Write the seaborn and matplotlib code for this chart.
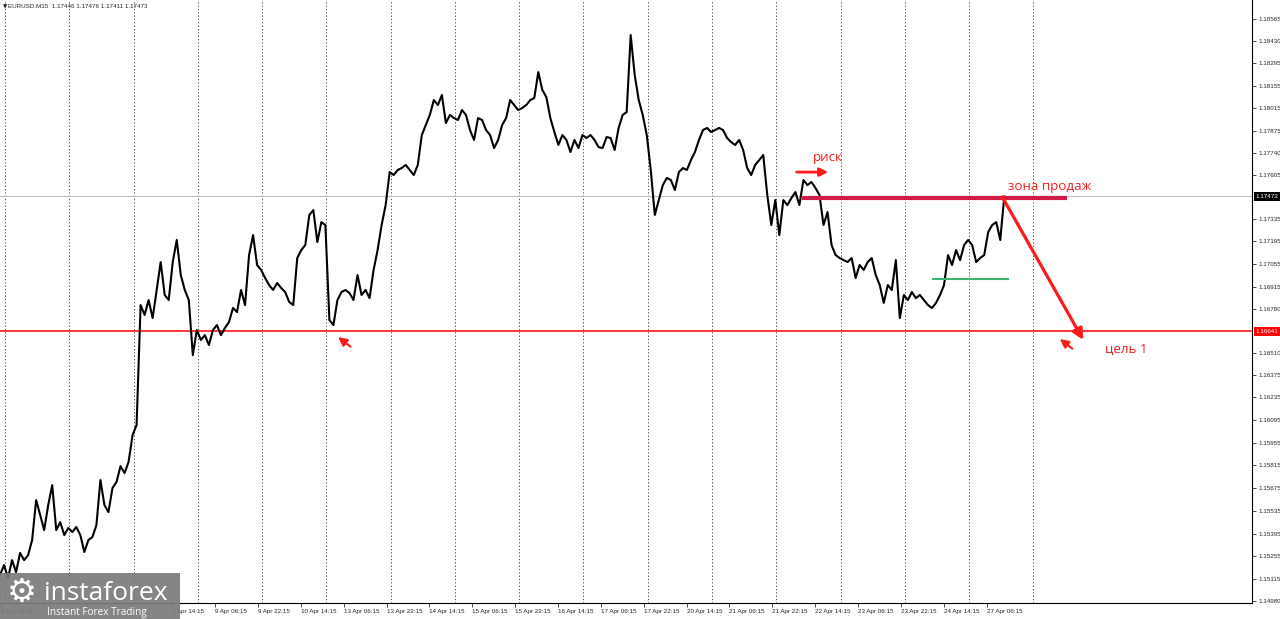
import numpy as np
import pandas as pd
import seaborn as sns
import matplotlib.pyplot as plt
import matplotlib.transforms as mtransforms
from matplotlib.patches import Rectangle

# EURUSD M15 closes, every 6 bars
close = [
    1.15140, 1.15202, 1.15122, 1.15232, 1.15158, 1.15276, 1.15232, 1.15263, 1.15356, 1.15602,
    1.15510, 1.15417, 1.15571, 1.15694, 1.15417, 1.15466, 1.15386, 1.15430, 1.15405, 1.15436,
    1.15386, 1.15282, 1.15356, 1.15374, 1.15448, 1.15725, 1.15571, 1.15528, 1.15676, 1.15713,
    1.15811, 1.15768, 1.15836, 1.16002, 1.16064,
    1.16803, 1.16742, 1.16834, 1.16723, 1.16896, 1.17068, 1.16865, 1.16834, 1.17068, 1.17204,
    1.16988, 1.16896, 1.16834, 1.16495, 1.16649,
    1.16588, 1.16618, 1.16557, 1.16649, 1.16680, 1.16618, 1.16662, 1.16698, 1.16785, 1.16760,
    1.16896, 1.16803, 1.17111, 1.17234, 1.17050, 1.17019, 1.16970, 1.16926, 1.16896, 1.16939,
    1.16908, 1.16883, 1.16822, 1.16803, 1.17093, 1.17142, 1.17173, 1.17358, 1.17388, 1.17191,
    1.17314, 1.17296,
    1.16711, 1.16680, 1.16834, 1.16883, 1.16896, 1.16877, 1.16834, 1.16988, 1.16865, 1.16896,
    1.16846, 1.17019, 1.17142, 1.17296, 1.17419, 1.17622, 1.17604, 1.17635, 1.17647, 1.17666,
    1.17635, 1.17604, 1.17666,
    1.17850, 1.17912, 1.17974, 1.18066, 1.18035, 1.18097, 1.17924, 1.17974, 1.17955, 1.17943,
    1.18004, 1.17974, 1.17881, 1.17820, 1.17955, 1.17943, 1.17881, 1.17850, 1.17770, 1.17820,
    1.17912, 1.17955, 1.18066, 1.18035, 1.18004, 1.18017, 1.18035, 1.18066, 1.18078, 1.18238,
    1.18128, 1.18084, 1.17955, 1.17869, 1.17789, 1.17850, 1.17820, 1.17746, 1.17820, 1.17770,
    1.17850, 1.17832, 1.17850, 1.17820, 1.17776, 1.17770, 1.17838, 1.17832, 1.17758, 1.17894,
    1.17974, 1.17992, 1.18466, 1.18220, 1.18066, 1.17974, 1.17850, 1.17635, 1.17358, 1.17450,
    1.17542, 1.17586, 1.17573, 1.17512, 1.17622, 1.17647, 1.17635, 1.17696, 1.17746, 1.17820,
    1.17881, 1.17894, 1.17869, 1.17881, 1.17894, 1.17881, 1.17832, 1.17807, 1.17789, 1.17820,
    1.17758, 1.17647, 1.17604, 1.17666, 1.17696, 1.17727, 1.17481, 1.17296, 1.17450, 1.17234,
    1.17450, 1.17419, 1.17462, 1.17499, 1.17419, 1.17573, 1.17542, 1.17561, 1.17524, 1.17481,
    1.17296, 1.17376, 1.17173, 1.17111, 1.17093, 1.17080, 1.17068, 1.17093, 1.16970, 1.17050,
    1.17019, 1.17068, 1.17093, 1.16988, 1.16926, 1.16816, 1.16926, 1.16896, 1.17080, 1.16723,
    1.16865, 1.16834, 1.16883, 1.16846, 1.16865, 1.16834, 1.16803, 1.16785, 1.16816, 1.16865,
    1.16926, 1.17111, 1.17050, 1.17142, 1.17080, 1.17173, 1.17204, 1.17173, 1.17068, 1.17093,
    1.17111, 1.17253, 1.17296, 1.17314, 1.17204, 1.17473,
]
bar_step = 6

price_ticks = [1.18565, 1.18430, 1.18295, 1.18155, 1.18015, 1.17875, 1.17740, 1.17605,
               1.17335, 1.17195, 1.17055, 1.16915, 1.16780, 1.16510, 1.16375, 1.16235,
               1.16095, 1.15955, 1.15815, 1.15675, 1.15535, 1.15395, 1.15255, 1.15115,
               1.14980]

# labels under the watermark are hidden in the terminal screenshot
time_labels = ["3 Apr 22:15", "", "", "", "8 Apr 14:15",
               "9 Apr 06:15", "9 Apr 22:15", "10 Apr 14:15", "13 Apr 06:15", "13 Apr 22:15",
               "14 Apr 14:15", "15 Apr 06:15", "15 Apr 22:15", "16 Apr 14:15", "17 Apr 06:15",
               "17 Apr 22:15", "20 Apr 14:15", "21 Apr 06:15", "21 Apr 22:15", "22 Apr 14:15",
               "23 Apr 06:15", "23 Apr 22:15", "24 Apr 14:15", "27 Apr 06:15"]

current_price = 1.17473
target_level = 1.16641
sell_zone = 1.17460
sell_zone_bars = (1198, 1594)
risk_level = 1.17622
risk_bars = (1190, 1237)
green_level = 1.16963
green_bars = (1392, 1507)
arrow_from = (1497, 1.17469)
arrow_to = (1618, 1.16588)

sns.set_style("white")
plt.rcParams['font.family'] = ['Liberation Sans', 'DejaVu Sans']

df = pd.DataFrame({"bar": np.arange(len(close)) * bar_step, "close": close})

fig = plt.figure(figsize=(12.8, 6.19), dpi=100)
ax = fig.add_axes([0, 16 / 619, 1252 / 1280, 603 / 619])

# vertical dotted grid (one per day)
for k in range(17):
    ax.axvline(7.5 + 96 * k, color="#333333", lw=0.6, dashes=(1.5, 2.5), zorder=0)

ax.axhline(current_price, color="#c0c0c0", lw=0.8, zorder=1)
ax.axhline(target_level, color="red", lw=1.1, zorder=1)

sns.lineplot(data=df, x="bar", y="close", color="black", lw=1.5, ax=ax, zorder=3)

ax.set_xlim(0, 1870)
ax.set_ylim(1.14968, 1.18682)

# annotations
ax.hlines(sell_zone, *sell_zone_bars, color="#d21c48", lw=3, zorder=4)
ax.hlines(green_level, *green_bars, color="#3cb371", lw=1.5, zorder=4)
ax.annotate("", xy=arrow_to, xytext=arrow_from,
            arrowprops=dict(arrowstyle="-|>", color="#ff1a1a", lw=2.3, mutation_scale=16,
                            shrinkA=0, shrinkB=0), zorder=5)
ax.annotate("", xy=(risk_bars[1], risk_level), xytext=(risk_bars[0], risk_level),
            arrowprops=dict(arrowstyle="-|>", color="#ff1a1a", lw=2, mutation_scale=12,
                            shrinkA=0, shrinkB=0), zorder=5)
for tip in [(1583, 1.16594), (505, 1.16606)]:
    ax.annotate("", xy=tip, xytext=(9, -7), textcoords="offset points",
                arrowprops=dict(arrowstyle="-|>", color="#ff1a1a", lw=1.5, mutation_scale=13,
                                shrinkA=0, shrinkB=0), zorder=5)

txt_kw = dict(color="#f01e1e", fontsize=9.6, family=["Open Sans", "DejaVu Sans"], va="baseline", zorder=6)
ax.text(1214, 1.17690, "риск", **txt_kw)
ax.text(1506, 1.17512, "зона продаж", **txt_kw)
ax.text(1650, 1.16506, "цель 1", **txt_kw)

# axes styling like the terminal
for side in ["left", "top"]:
    ax.spines[side].set_visible(False)
for side in ["right", "bottom"]:
    ax.spines[side].set_color("black")
    ax.spines[side].set_linewidth(0.8)

ax.yaxis.tick_right()
ax.set_yticks(price_ticks)
ax.set_yticklabels([f"{v:.5f}" for v in price_ticks])
ax.tick_params(axis="y", length=3, width=0.6, labelsize=4.5, pad=2, direction="out", right=True)

ax.set_xticks([1.5 + 64 * k for k in range(len(time_labels))])
ax.set_xticklabels(time_labels)
for lbl in ax.get_xticklabels():
    lbl.set_ha("left")
ax.tick_params(axis="x", length=3, width=0.6, labelsize=4.5, pad=1.5, direction="out", bottom=True)
ax.set_xlabel("")
ax.set_ylabel("")

blend = mtransforms.blended_transform_factory(ax.transAxes, ax.transData)
ax.text(1.003, current_price, f"{current_price:.5f}", transform=blend, ha="left", va="center",
        fontsize=4.5, color="white", clip_on=False,
        bbox=dict(boxstyle="square,pad=0.3", fc="black", ec="none"))
ax.text(1.003, target_level, f"{target_level:.5f}", transform=blend, ha="left", va="center",
        fontsize=4.5, color="white", clip_on=False,
        bbox=dict(boxstyle="square,pad=0.3", fc="red", ec="none"))

ax.text(0.002, 0.993, "▼", transform=ax.transAxes, fontsize=4, va="top", ha="left",
        family=["DejaVu Sans"])
ax.text(0.0065, 0.993, "EURUSD.M15  1.17446 1.17476 1.17411 1.17473", transform=ax.transAxes,
        fontsize=4.5, va="top", ha="left")

# watermark
fig.patches.append(Rectangle((0, 0), 180 / 1280, 46 / 619, transform=fig.transFigure,
                             facecolor="#7b7b7b", alpha=0.92, edgecolor="none", zorder=10))
fig.text(22 / 1280, 27 / 619, "⚙", color="white", fontsize=24, ha="center", va="center",
         family=["DejaVu Sans"], zorder=11)
fig.text(44 / 1280, 19 / 619, "instaforex", color="white", fontsize=19, ha="left",
         va="baseline", family=["Open Sans", "DejaVu Sans"], zorder=11)
fig.text(47 / 1280, 4 / 619, "Instant Forex Trading", color="white", fontsize=7.2, ha="left",
         va="baseline", family=["Open Sans", "DejaVu Sans"], zorder=11)

plt.savefig("out.png", dpi=100)
